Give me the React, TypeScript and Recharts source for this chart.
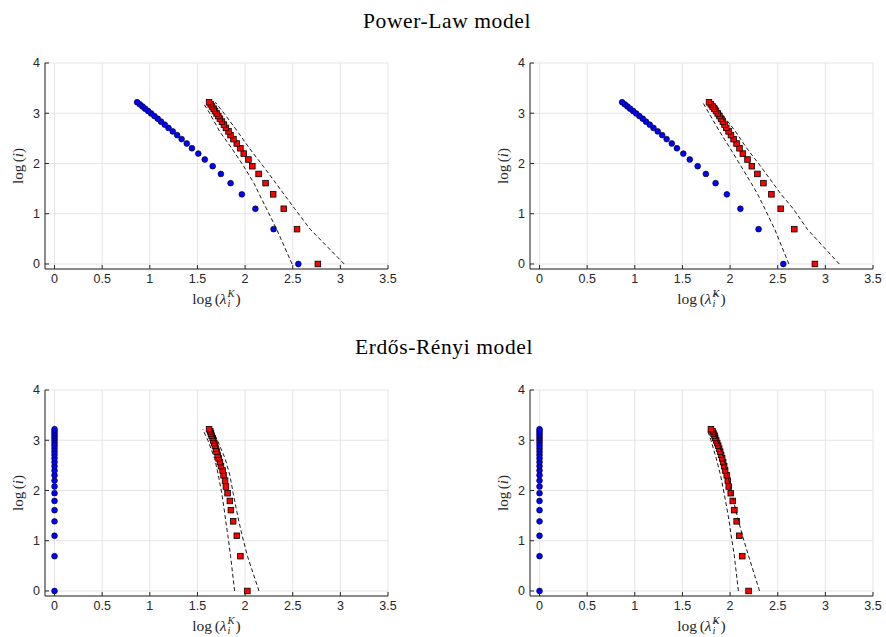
import React from 'react';
import { ScatterChart, Scatter, XAxis, YAxis, CartesianGrid } from 'recharts';

// log(i), rank of each eigenvalue (same for every panel)
const LOG_RANK = [
  0, 0.693, 1.099, 1.386, 1.609, 1.792, 1.946, 2.079, 2.197, 2.303, 2.398, 2.485, 2.565,
  2.639, 2.708, 2.773, 2.833, 2.89, 2.944, 2.996, 3.045, 3.091, 3.135, 3.178, 3.219,
];

// y positions where the dashed bounds were read
const BOUND_Y = [0, 0.693, 1.099, 1.386, 1.609, 1.946, 2.303, 2.639, 2.996, 3.219];

// Power-Law model
const PL_BLUE = [
  2.559, 2.299, 2.108, 1.966, 1.848, 1.746, 1.66, 1.577, 1.509, 1.442, 1.388, 1.334, 1.287,
  1.241, 1.196, 1.157, 1.118, 1.084, 1.048, 1.014, 0.982, 0.951, 0.923, 0.895, 0.867,
];
const PL_RED = [
  2.764, 2.545, 2.406, 2.295, 2.215, 2.142, 2.076, 2.035, 1.986, 1.951, 1.913, 1.878, 1.847,
  1.826, 1.799, 1.778, 1.757, 1.736, 1.719, 1.701, 1.684, 1.67, 1.653, 1.639, 1.622,
];
const PL_RED_HAT = [
  2.89, 2.674, 2.531, 2.434, 2.35, 2.287, 2.228, 2.183, 2.134, 2.099, 2.068, 2.037, 2.009,
  1.984, 1.96, 1.942, 1.924, 1.906, 1.888, 1.87, 1.852, 1.834, 1.816, 1.798, 1.779,
];
const PL_LO = [2.493, 2.331, 2.225, 2.149, 2.093, 1.985, 1.86, 1.733, 1.63, 1.556];
const PL_HI = [3.04, 2.683, 2.521, 2.409, 2.323, 2.19, 2.045, 1.92, 1.78, 1.688];
const PL_HAT_LO = [2.617, 2.468, 2.365, 2.29, 2.222, 2.115, 2.0, 1.889, 1.78, 1.712];
const PL_HAT_HI = [3.146, 2.81, 2.663, 2.536, 2.45, 2.32, 2.175, 2.056, 1.91, 1.835];

// Erdős-Rényi model
const ER_BLUE = [
  0, 0, 0, 0, 0, 0, 0, 0, 0, 0, 0, 0, 0, 0, 0, 0, 0, 0, 0, 0, 0, 0, 0, 0, 0,
];
const ER_RED = [
  2.024, 1.951, 1.913, 1.875, 1.851, 1.84, 1.816, 1.799, 1.79, 1.774, 1.764, 1.747, 1.736,
  1.722, 1.712, 1.701, 1.694, 1.684, 1.677, 1.667, 1.66, 1.649, 1.642, 1.635, 1.622,
];
const ER_RED_HAT = [
  2.194, 2.128, 2.097, 2.069, 2.045, 2.028, 2.007, 1.986, 1.976, 1.965, 1.948, 1.938, 1.927,
  1.917, 1.906, 1.896, 1.885, 1.875, 1.865, 1.854, 1.844, 1.837, 1.826, 1.816, 1.799,
];
const ER_LO = [1.89, 1.848, 1.82, 1.797, 1.782, 1.755, 1.72, 1.68, 1.61, 1.556];
const ER_HI = [2.146, 2.025, 1.97, 1.935, 1.91, 1.875, 1.84, 1.79, 1.71, 1.649];
const ER_HAT_LO = [2.087, 2.045, 2.012, 1.99, 1.97, 1.937, 1.9, 1.855, 1.8, 1.76];
const ER_HAT_HI = [2.309, 2.195, 2.13, 2.09, 2.06, 2.017, 1.975, 1.935, 1.87, 1.823];

const X_TICKS = [0, 0.5, 1, 1.5, 2, 2.5, 3, 3.5];
const Y_TICKS = [0, 1, 2, 3, 4];

const AXIS_COLOR = '#262626';
const TICK_FONT = { fill: AXIS_COLOR, fontSize: 12.5, fontFamily: 'Liberation Sans, Arial, sans-serif' };
const SERIF = '"Liberation Serif", "DejaVu Serif", serif';

const toPoints = (xs: number[], ys: number[]) => xs.map((x, i) => ({ x, y: ys[i] }));

const Circle = (p: any) => (
  <circle cx={p.cx} cy={p.cy} r={2.9} fill="#0000ff" stroke="#000" strokeWidth={0.6} />
);
const Square = (p: any) => (
  <rect x={p.cx - 2.8} y={p.cy - 2.8} width={5.6} height={5.6} fill="#ff0000" stroke="#000" strokeWidth={0.8} />
);
const NoMark = () => <g />;

const PLOT_W = 343;
const PLOT_H = 206;

interface PanelProps {
  left: number;
  top: number;
  blue: number[];
  red: number[];
  lo: number[];
  hi: number[];
  hat?: boolean;
}

const Panel: React.FC<PanelProps> = ({ left, top, blue, red, lo, hi, hat }) => {
  const dash = { stroke: '#000', strokeWidth: 0.9, strokeDasharray: '4 2.6', fill: 'none' };
  const axisLine = { stroke: AXIS_COLOR, strokeWidth: 1 };
  return (
    <>
      <div style={{ position: 'absolute', left: left - 45, top: top - 25 }}>
        <ScatterChart
          width={PLOT_W + 45 + 12}
          height={PLOT_H + 25 + 45}
          margin={{ top: 25, right: 12, bottom: 15, left: 0 }}
        >
          <CartesianGrid stroke="#e2e2e2" strokeWidth={0.9} />
          <XAxis
            type="number"
            dataKey="x"
            domain={[-0.1, 3.5]}
            ticks={X_TICKS}
            interval={0}
            allowDataOverflow
            height={30}
            tickSize={-4}
            tickMargin={9}
            axisLine={axisLine}
            tickLine={axisLine}
            tick={TICK_FONT}
          />
          <YAxis
            type="number"
            dataKey="y"
            domain={[-0.1, 4]}
            ticks={Y_TICKS}
            interval={0}
            allowDataOverflow
            width={45}
            tickSize={-4}
            tickMargin={9}
            axisLine={axisLine}
            tickLine={axisLine}
            tick={TICK_FONT}
          />
          <XAxis
            xAxisId="top"
            orientation="top"
            type="number"
            domain={[-0.1, 3.5]}
            ticks={X_TICKS}
            interval={0}
            allowDataOverflow
            height={0}
            tickSize={-4}
            tick={false}
            axisLine={axisLine}
            tickLine={axisLine}
          />
          <YAxis
            yAxisId="right"
            orientation="right"
            type="number"
            domain={[-0.1, 4]}
            ticks={Y_TICKS}
            interval={0}
            allowDataOverflow
            width={0}
            tickSize={-4}
            tick={false}
            axisLine={axisLine}
            tickLine={axisLine}
          />
          <Scatter data={toPoints(blue, LOG_RANK)} shape={Circle} isAnimationActive={false} />
          <Scatter data={toPoints(red, LOG_RANK)} shape={Square} isAnimationActive={false} />
          <Scatter data={toPoints(lo, BOUND_Y)} shape={NoMark} line={dash} isAnimationActive={false} />
          <Scatter data={toPoints(hi, BOUND_Y)} shape={NoMark} line={dash} isAnimationActive={false} />
        </ScatterChart>
      </div>
      {/* x label */}
      <div
        style={{
          position: 'absolute',
          left: left + PLOT_W / 2,
          top: top + PLOT_H + 30,
          transform: 'translate(-50%, -50%)',
          fontFamily: SERIF,
          fontSize: 15.5,
          color: AXIS_COLOR,
          whiteSpace: 'nowrap',
          display: 'flex',
          alignItems: 'center',
        }}
      >
        <span>log&#8202;&#8202;(</span>
        <span style={{ fontStyle: 'italic' }}>{hat ? 'λ\u0302' : 'λ'}</span>
        <span
          style={{
            display: 'inline-flex',
            flexDirection: 'column',
            fontSize: 10.5,
            lineHeight: '10px',
            fontStyle: 'italic',
            marginLeft: 1,
            marginRight: 1,
          }}
        >
          <span>K</span>
          <span>i</span>
        </span>
        <span>)</span>
      </div>
      {/* y label */}
      <div
        style={{
          position: 'absolute',
          left: left - 27,
          top: top + PLOT_H / 2,
          transform: 'translate(-50%, -50%) rotate(-90deg)',
          fontFamily: SERIF,
          fontSize: 15,
          color: AXIS_COLOR,
          whiteSpace: 'nowrap',
        }}
      >
        log&#8202;&#8202;(<span style={{ fontStyle: 'italic' }}>i</span>)
      </div>
    </>
  );
};

const titleStyle: React.CSSProperties = {
  position: 'absolute',
  transform: 'translate(-50%, -50%)',
  fontFamily: SERIF,
  fontSize: 21.5,
  color: '#000',
  whiteSpace: 'nowrap',
  letterSpacing: 0.6,
};

export default function App() {
  return (
    <div style={{ position: 'absolute', left: 0, top: 0, width: 886, height: 637, background: '#fff' }}>
      <div style={{ ...titleStyle, left: 447, top: 21 }}>Power-Law model</div>
      <div style={{ ...titleStyle, left: 444, top: 347 }}>Erdős-Rényi model</div>
      <Panel left={45} top={63} blue={PL_BLUE} red={PL_RED} lo={PL_LO} hi={PL_HI} />
      <Panel left={530} top={63} blue={PL_BLUE} red={PL_RED_HAT} lo={PL_HAT_LO} hi={PL_HAT_HI} hat />
      <Panel left={45} top={390} blue={ER_BLUE} red={ER_RED} lo={ER_LO} hi={ER_HI} />
      <Panel left={530} top={390} blue={ER_BLUE} red={ER_RED_HAT} lo={ER_HAT_LO} hi={ER_HAT_HI} hat />
    </div>
  );
}
